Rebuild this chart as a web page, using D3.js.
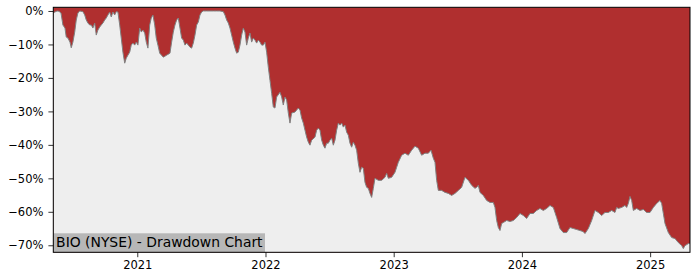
<!DOCTYPE html>
<html>
<head>
<meta charset="utf-8">
<script src="https://cdn.jsdelivr.net/npm/d3@7"></script>
<style>
  html, body { margin: 0; padding: 0; background: #fff; }
  svg { display: block; }
</style>
</head>
<body>
<script>
// dates as fractional years, drawdown in percent
const years = [
  2020.342, 2020.358, 2020.374, 2020.389, 2020.405, 2020.420, 2020.436, 2020.446, 2020.459, 2020.475,
  2020.485, 2020.498, 2020.512, 2020.524, 2020.537, 2020.551, 2020.576, 2020.590, 2020.602, 2020.615,
  2020.629, 2020.641, 2020.654, 2020.668, 2020.680, 2020.693, 2020.707, 2020.719, 2020.732, 2020.746,
  2020.758, 2020.771, 2020.785, 2020.797, 2020.810, 2020.824, 2020.836, 2020.849, 2020.863, 2020.875,
  2020.888, 2020.902, 2020.914, 2020.927, 2020.941, 2020.953, 2020.966, 2020.980, 2020.992, 2021.005,
  2021.019, 2021.031, 2021.044, 2021.058, 2021.070, 2021.083, 2021.097, 2021.109, 2021.122, 2021.136,
  2021.148, 2021.161, 2021.175, 2021.203, 2021.229, 2021.255, 2021.268, 2021.281, 2021.294, 2021.307,
  2021.320, 2021.333, 2021.346, 2021.359, 2021.372, 2021.385, 2021.398, 2021.411, 2021.424, 2021.437,
  2021.450, 2021.463, 2021.476, 2021.489, 2021.502, 2021.515, 2021.541, 2021.567, 2021.593, 2021.619,
  2021.645, 2021.671, 2021.684, 2021.697, 2021.710, 2021.723, 2021.736, 2021.749, 2021.762, 2021.775,
  2021.788, 2021.801, 2021.814, 2021.827, 2021.840, 2021.853, 2021.866, 2021.879, 2021.892, 2021.905,
  2021.918, 2021.931, 2021.944, 2021.957, 2021.970, 2021.983, 2021.996, 2022.009, 2022.022, 2022.035,
  2022.048, 2022.061, 2022.074, 2022.087, 2022.113, 2022.126, 2022.139, 2022.152, 2022.165, 2022.178,
  2022.191, 2022.204, 2022.230, 2022.256, 2022.269, 2022.282, 2022.295, 2022.308, 2022.321, 2022.334,
  2022.347, 2022.360, 2022.386, 2022.399, 2022.412, 2022.425, 2022.438, 2022.451, 2022.464, 2022.477,
  2022.490, 2022.503, 2022.516, 2022.529, 2022.542, 2022.555, 2022.568, 2022.581, 2022.594, 2022.607,
  2022.620, 2022.633, 2022.646, 2022.659, 2022.672, 2022.685, 2022.698, 2022.711, 2022.724, 2022.737,
  2022.750, 2022.763, 2022.776, 2022.789, 2022.802, 2022.815, 2022.828, 2022.841, 2022.854, 2022.880,
  2022.906, 2022.932, 2022.945, 2022.958, 2022.984, 2023.010, 2023.023, 2023.036, 2023.062, 2023.088,
  2023.114, 2023.140, 2023.166, 2023.192, 2023.218, 2023.244, 2023.270, 2023.291, 2023.309, 2023.322,
  2023.335, 2023.348, 2023.374, 2023.400, 2023.426, 2023.452, 2023.478, 2023.504, 2023.530, 2023.556,
  2023.582, 2023.608, 2023.634, 2023.647, 2023.660, 2023.673, 2023.699, 2023.725, 2023.751, 2023.777,
  2023.790, 2023.803, 2023.816, 2023.829, 2023.842, 2023.855, 2023.881, 2023.907, 2023.933, 2023.959,
  2023.985, 2024.011, 2024.037, 2024.063, 2024.089, 2024.115, 2024.141, 2024.167, 2024.193, 2024.219,
  2024.245, 2024.258, 2024.271, 2024.297, 2024.323, 2024.349, 2024.375, 2024.401, 2024.427, 2024.453,
  2024.477, 2024.492, 2024.518, 2024.544, 2024.570, 2024.596, 2024.622, 2024.648, 2024.674, 2024.700,
  2024.726, 2024.739, 2024.752, 2024.778, 2024.804, 2024.817, 2024.830, 2024.843, 2024.856, 2024.869,
  2024.895, 2024.921, 2024.947, 2024.973, 2024.999, 2025.025, 2025.051, 2025.077, 2025.090, 2025.103,
  2025.116, 2025.142, 2025.168, 2025.194, 2025.220, 2025.246, 2025.259, 2025.272, 2025.286, 2025.298,
  2025.311
]

const drawdown = [
  -0.6, -0.3, 0, -0.1, -0.6, -4.2, -5.1, -7.8, -8.1, -9.3,
  -11.0, -9.3, -6.3, -2.7, -0.6, 0, -0.2, -1.2, -2.7, -3.6,
  -4.2, -4.2, -5.1, -3.6, -7.2, -5.7, -4.8, -4.2, -3.6, -2.7,
  -2.1, -1.2, -0.3, -1.8, -0.3, -1.2, -0.2, -0.3, -4.2, -8.1,
  -12.3, -15.6, -14.1, -13.2, -12.3, -10.2, -9.6, -10.2, -9.3, -10.2,
  -5.1, -6.3, -5.7, -6.6, -9.3, -11.1, -4.2, -2.1, -1.2, -4.2,
  -8.1, -10.2, -12.6, -13.8, -13.2, -12.6, -9.3, -6.3, -4.2, -2.7,
  -2.1, -5.1, -8.1, -8.7, -10.2, -9.6, -10.2, -10.8, -11.1, -9.6,
  -7.2, -4.2, -3.3, -1.2, -0.3, 0, 0, 0, 0, 0,
  0, -0.2, -1.2, -2.7, -3.6, -5.1, -7.2, -9.3, -11.1, -12.6,
  -12.3, -10.2, -7.2, -5.1, -6.3, -10.2, -8.1, -6.6, -9.3, -8.1,
  -8.7, -9.6, -8.7, -9.3, -10.2, -10.2, -9.3, -12.3, -16.8, -20.7,
  -24.6, -28.7, -29.0, -25.7, -24.3, -25.7, -28.1, -25.7, -26.6, -30.5,
  -33.5, -30.5, -30.2, -29.0, -29.6, -32.0, -33.5, -35.6, -37.7, -39.2,
  -40.1, -38.6, -37.7, -35.6, -35.0, -35.6, -38.6, -40.1, -41.0, -39.5,
  -39.5, -38.6, -38.0, -40.1, -38.6, -35.6, -33.5, -34.1, -33.5, -34.7,
  -34.1, -36.2, -37.1, -39.5, -40.7, -39.2, -40.1, -41.6, -45.5, -48.2,
  -46.7, -47.0, -51.2, -52.7, -53.0, -54.5, -55.7, -53.0, -50.0, -50.6,
  -50.6, -49.7, -48.5, -50.0, -49.7, -48.2, -46.7, -45.2, -43.1, -42.5,
  -43.1, -41.6, -40.4, -41.0, -43.1, -42.5, -42.5, -41.6, -44.0, -45.2,
  -50.6, -53.6, -53.6, -54.2, -54.5, -55.1, -54.5, -53.6, -52.7, -49.7,
  -50.6, -52.1, -53.0, -52.7, -52.1, -54.2, -55.1, -56.6, -57.2, -57.2,
  -58.7, -62.6, -64.7, -65.6, -63.5, -63.2, -62.6, -62.9, -62.6, -61.7,
  -60.5, -61.1, -62.0, -60.5, -60.5, -59.6, -59.0, -59.6, -59.0, -58.1,
  -58.7, -60.2, -61.7, -65.0, -66.2, -66.2, -64.7, -65.0, -65.3, -65.6,
  -65.9, -66.5, -65.0, -62.6, -59.6, -60.2, -61.1, -60.2, -60.2, -59.6,
  -60.2, -58.7, -59.0, -58.7, -58.1, -58.7, -57.5, -55.4, -56.6, -59.6,
  -59.0, -59.6, -59.3, -60.2, -60.2, -58.7, -57.5, -56.6, -57.5, -60.5,
  -63.5, -66.2, -67.7, -68.0, -69.2, -70.1, -71.0, -70.1, -69.8, -69.5,
  -69.5
]

const yearTicks = [2021, 2022, 2023, 2024, 2025]
const pctTicks = [0, -10, -20, -30, -40, -50, -60, -70]
const title = "BIO (NYSE) - Drawdown Chart"

const width = 700
const height = 280
const margin = {top: 7.3, right: 10, bottom: 27.7, left: 53.3}
const w = width - margin.left - margin.right
const h = height - margin.top - margin.bottom

const data = years.map((t, i) => ({t, v: drawdown[i]}))

const x = d3.scaleLinear().domain([2020.345, 2025.311]).range([0, w])
const y = d3.scaleLinear().domain([-72.1, 1.1]).range([h, 0])

const svg = d3.select("body").append("svg").attr("width", width).attr("height", height)

const g = svg.append("g").attr("transform", `translate(${margin.left},${margin.top})`)

g.append("clipPath").attr("id", "clip").append("rect").attr("width", w).attr("height", h)

// red background = space above the curve
g.append("rect").attr("width", w).attr("height", h).attr("fill", "#b02f2f")

const plot = g.append("g").attr("clip-path", "url(#clip)")

plot
  .append("path")
  .datum(data)
  .attr("fill", "#eeeeee")
  .attr(
    "d",
    d3
      .area()
      .x((d) => x(d.t))
      .y0(h)
      .y1((d) => y(d.v))
  )

plot
  .append("path")
  .datum(data)
  .attr("fill", "none")
  .attr("stroke", "#808080")
  .attr("stroke-width", 1)
  .attr(
    "d",
    d3
      .line()
      .x((d) => x(d.t))
      .y((d) => y(d.v))
  )

// title label box
const label = g.append("g").attr("transform", `translate(0,${h})`)
label.append("rect").attr("x", 0).attr("y", -19).attr("width", 211.7).attr("height", 19).attr("fill", "#b7b7b7")
label
  .append("text")
  .attr("x", 2.8)
  .attr("y", -5.6)
  .attr("font-family", "DejaVu Sans")
  .attr("font-size", 13.9)
  .attr("fill", "#000")
  .text(title)

// axes
const fmtPct = (d) => (d < 0 ? "\u2212" + Math.abs(d) : d) + "%"

const xAxis = g
  .append("g")
  .attr("transform", `translate(0,${h})`)
  .call(d3.axisBottom(x).tickValues(yearTicks).tickFormat(d3.format("d")).tickSize(4.9).tickPadding(4))

const yAxis = g.append("g").call(d3.axisLeft(y).tickValues(pctTicks).tickFormat(fmtPct).tickSize(4.9).tickPadding(5))

for (const ax of [xAxis, yAxis]) {
  ax.select(".domain").remove()
  ax.selectAll("line").attr("stroke", "#000").attr("stroke-width", 0.8)
  ax.selectAll("text").attr("font-family", "DejaVu Sans").attr("font-size", 11.5).attr("fill", "#000")
}

// spines
g.append("rect")
  .attr("width", w)
  .attr("height", h)
  .attr("fill", "none")
  .attr("stroke", "#000")
  .attr("stroke-width", 1)
</script>
</body>
</html>
